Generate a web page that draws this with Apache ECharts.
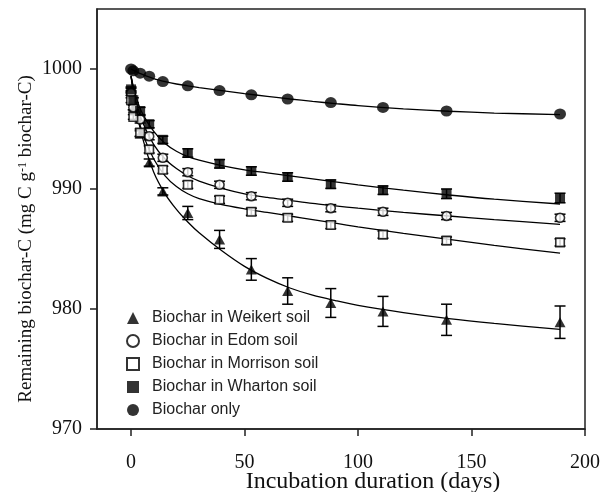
<!DOCTYPE html>
<html>
<head>
<meta charset="utf-8">
<script src="https://cdn.jsdelivr.net/npm/echarts@6/dist/echarts.min.js"></script>
<style>html,body{margin:0;padding:0;background:#fff}#c{width:610px;height:492px}</style>
</head>
<body>
<div id="c"></div>
<script>
// ---- data ----
const days = [0, 1, 4, 8, 14, 25, 39, 53, 69, 88, 111, 139, 189];
const weikert   = [998.2, 996.8, 994.6, 992.2, 989.8, 988.0, 985.8, 983.3, 981.5, 980.5, 979.8, 979.1, 978.9];
const weikertErr= [0.2, 0.2, 0.25, 0.3, 0.3, 0.55, 0.75, 0.9, 1.1, 1.2, 1.25, 1.3, 1.35];
const edom      = [998.0, 996.8, 995.8, 994.4, 992.6, 991.4, 990.35, 989.4, 988.85, 988.4, 988.1, 987.75, 987.6];
const edomErr   = [0.2, 0.2, 0.3, 0.3, 0.3, 0.3, 0.3, 0.3, 0.3, 0.3, 0.3, 0.3, 0.3];
const morrison  = [997.4, 996.0, 994.7, 993.3, 991.6, 990.35, 989.1, 988.1, 987.6, 987.0, 986.2, 985.7, 985.55];
const morrisonErr=[0.2, 0.2, 0.3, 0.3, 0.3, 0.3, 0.3, 0.3, 0.3, 0.3, 0.3, 0.3, 0.3];
const wharton   = [998.3, 997.4, 996.5, 995.4, 994.1, 993.0, 992.1, 991.5, 991.0, 990.4, 989.9, 989.6, 989.25];
const whartonErr= [0.2, 0.2, 0.3, 0.3, 0.3, 0.35, 0.35, 0.35, 0.35, 0.35, 0.35, 0.4, 0.4];
const biocharOnly=[1000, 999.85, 999.65, 999.4, 998.95, 998.6, 998.2, 997.85, 997.5, 997.2, 996.8, 996.5, 996.25];

// fitted curves at these days
const fitDays     = [0, 2, 5, 10, 15, 20, 25, 30, 40, 50, 60, 70, 80, 90, 100, 120, 140, 160, 189];
const fitWeikert  = [999.4, 996.9, 994.3, 991.4, 989.6, 988.3, 987.25, 986.35, 984.85, 983.55, 982.55, 981.75, 981.15, 980.7, 980.3, 979.7, 979.2, 978.8, 978.3];
const fitEdom     = [999.4, 997.4, 995.6, 993.7, 992.5, 991.7, 991.1, 990.65, 990.05, 989.6, 989.3, 989.05, 988.8, 988.6, 988.4, 988.05, 987.75, 987.45, 987.05];
const fitMorrison = [999.4, 996.9, 994.7, 992.5, 991.1, 990.2, 989.6, 989.2, 988.7, 988.35, 988.05, 987.75, 987.45, 987.15, 986.85, 986.3, 985.8, 985.3, 984.65];
const fitWharton  = [999.4, 997.8, 996.3, 994.8, 993.8, 993.15, 992.7, 992.4, 991.95, 991.6, 991.35, 991.1, 990.85, 990.6, 990.35, 989.9, 989.5, 989.15, 988.75];
const fitBiochar  = [1000, 999.8, 999.55, 999.2, 998.95, 998.75, 998.6, 998.45, 998.2, 997.95, 997.72, 997.5, 997.3, 997.12, 996.95, 996.68, 996.48, 996.33, 996.2];

const names = ['Biochar in Weikert soil', 'Biochar in Edom soil', 'Biochar in Morrison soil', 'Biochar in Wharton soil', 'Biochar only'];
const xTicks = [0, 50, 100, 150, 200];
const yTicks = [970, 980, 990, 1000];

// ---- build ----
const zip = (xs, ys) => xs.map((x, i) => [x, ys[i]]);
const errData = (ys, es) => days.map((d, i) => [d, ys[i] - es[i], ys[i] + es[i]]);

function errSeries(ys, es) {
  return {
    type: 'custom', silent: true, z: 2,
    data: errData(ys, es),
    encode: { x: 0, y: [1, 2] },
    renderItem: function (params, api) {
      const lo = api.coord([api.value(0), api.value(1)]);
      const hi = api.coord([api.value(0), api.value(2)]);
      const w = 5.5;
      const st = { stroke: '#000', lineWidth: 1.5 };
      return { type: 'group', children: [
        { type: 'line', shape: { x1: lo[0], y1: lo[1], x2: hi[0], y2: hi[1] }, style: st },
        { type: 'line', shape: { x1: lo[0] - w, y1: lo[1], x2: lo[0] + w, y2: lo[1] }, style: st },
        { type: 'line', shape: { x1: hi[0] - w, y1: hi[1], x2: hi[0] + w, y2: hi[1] }, style: st }
      ]};
    }
  };
}
function fitSeries(ys) {
  return { type: 'line', data: zip(fitDays, ys), smooth: 0.3, showSymbol: false, silent: true,
    lineStyle: { color: '#000', width: 1.3 }, z: 3 };
}
function markSeries(name, ys, symbol, size, filled) {
  return { type: 'scatter', name: name, data: zip(days, ys), symbol: symbol, symbolSize: size, z: 5,
    itemStyle: filled ? { color: '#000', borderColor: '#000', borderWidth: 0 }
                      : { color: '#fff', borderColor: '#000', borderWidth: 1.6 } };
}

const chart = echarts.init(document.getElementById('c'), null, { renderer: 'canvas' });
chart.setOption({
  animation: false,
  backgroundColor: '#fff',
  grid: { left: 97, right: 25, top: 9, bottom: 63, show: true, borderColor: '#222', borderWidth: 1.5,
          outerBoundsMode: 'none', containLabel: false },
  xAxis: {
    type: 'value', min: -15, max: 200,
    splitLine: { show: false },
    axisLine: { onZero: false, lineStyle: { color: '#222', width: 1.5 } },
    axisTick: { show: true, length: 7, customValues: xTicks, lineStyle: { color: '#222', width: 1.5 } },
    axisLabel: { customValues: xTicks, margin: 24, color: '#111', fontFamily: 'Liberation Serif', fontSize: 20 },
    name: 'Incubation duration (days)', nameLocation: 'middle', nameGap: 41, nameMoveOverlap: false,
    nameTextStyle: { color: '#111', fontFamily: 'Liberation Serif', fontSize: 24, padding: [0, 0, 0, 64] }
  },
  yAxis: {
    type: 'value', min: 970, max: 1005,
    splitLine: { show: false },
    axisLine: { onZero: false, lineStyle: { color: '#222', width: 1.5 } },
    axisTick: { show: true, length: 7, customValues: yTicks, lineStyle: { color: '#222', width: 1.5 } },
    axisLabel: { customValues: yTicks, margin: 15, color: '#111', fontFamily: 'Liberation Serif', fontSize: 20,
                 formatter: v => String(v) }
  },
  legend: {
    orient: 'vertical', left: 126, top: 310, padding: 0,
    data: names, itemWidth: 12, itemHeight: 12, itemGap: 7,
    textStyle: { color: '#222', fontFamily: 'Liberation Sans', fontSize: 16, lineHeight: 16, padding: [0, 0, 0, 8] }
  },
  graphic: [{
    type: 'text', x: 26, y: 239, rotation: Math.PI / 2,
    style: {
      text: '{a|Remaining biochar-C (mg C g}{s|-1}{a| biochar-C)}',
      align: 'center', verticalAlign: 'middle',
      rich: {
        a: { fontFamily: 'Liberation Serif', fontSize: 19, fill: '#111' },
        s: { fontFamily: 'Liberation Serif', fontSize: 12, fill: '#111', verticalAlign: 'top' }
      }
    }
  }],
  series: [
    errSeries(weikert, weikertErr), errSeries(edom, edomErr), errSeries(morrison, morrisonErr), errSeries(wharton, whartonErr),
    fitSeries(fitWeikert), fitSeries(fitEdom), fitSeries(fitMorrison), fitSeries(fitWharton), fitSeries(fitBiochar),
    markSeries(names[0], weikert, 'triangle', [11, 10], true),
    markSeries(names[1], edom, 'circle', 9, false),
    markSeries(names[2], morrison, 'rect', 8.5, false),
    markSeries(names[3], wharton, 'rect', 10, true),
    markSeries(names[4], biocharOnly, 'circle', [12, 11], true)
  ]
});
</script>
</body>
</html>
